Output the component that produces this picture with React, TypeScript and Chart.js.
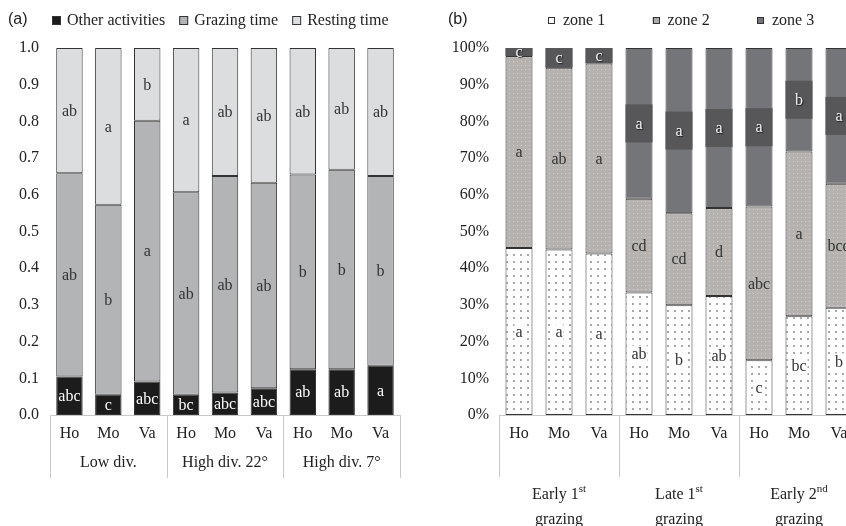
import React, { useEffect, useRef } from "react";
import { Chart, registerables } from "chart.js";
Chart.register(...registerables);

const SERIF = "'Liberation Serif', 'Times New Roman', serif";
const SANS = "'Liberation Sans', Arial, sans-serif";

// ---------- Panel (a) data ----------
const categories = ["Ho", "Mo", "Va", "Ho", "Mo", "Va", "Ho", "Mo", "Va"];
const groupsA = ["Low div.", "High div. 22°", "High div. 7°"];
const otherActivities = [0.105, 0.055, 0.091, 0.055, 0.061, 0.073, 0.125, 0.125, 0.134];
const grazingTime = [0.554, 0.518, 0.711, 0.552, 0.59, 0.56, 0.53, 0.543, 0.517];
const restingTime = [0.341, 0.427, 0.198, 0.393, 0.349, 0.367, 0.345, 0.332, 0.349];
const otherLetters = ["abc", "c", "abc", "bc", "abc", "abc", "ab", "ab", "a"];
const grazingLetters = ["ab", "b", "a", "ab", "ab", "ab", "b", "b", "b"];
const restingLetters = ["ab", "a", "b", "a", "ab", "ab", "ab", "ab", "ab"];

// ---------- Panel (b) data (percent) ----------
const groupMainB = ["Early 1", "Late 1", "Early 2"];
const groupSupB = ["st", "st", "nd"];
const groupLine2B = ["grazing", "grazing", "grazing"];
const zone1 = [45.5, 45.1, 44.0, 33.4, 29.9, 32.4, 14.9, 26.9, 29.2];
const zone2 = [52.3, 49.5, 51.8, 25.5, 25.1, 24.0, 41.9, 44.9, 33.8];
const zone3 = [2.2, 5.4, 4.2, 41.1, 45.0, 43.6, 43.2, 28.2, 37.0];
const zone1Letters = ["a", "a", "a", "ab", "b", "ab", "c", "bc", "b"];
const zone2Letters = ["a", "ab", "a", "cd", "cd", "d", "abc", "a", "bcd"];
const zone3Letters = ["c", "c", "c", "a", "a", "a", "a", "b", "a"];

function makePattern(size: number, bg: string, dotColor: string, dots: number[][]) {
  const c = document.createElement("canvas");
  c.width = size;
  c.height = size;
  const g = c.getContext("2d")!;
  g.fillStyle = bg;
  g.fillRect(0, 0, size, size);
  g.fillStyle = dotColor;
  dots.forEach(([x, y, w, h]) => g.fillRect(x, y, w, h));
  return g.createPattern(c, "repeat")!;
}

type LabelSpec = {
  letters: string[];
  color: string;
  band?: string;
  shadow?: boolean;
  boxBg?: string;
};

function drawBarLabels(chart: any, specs: LabelSpec[]) {
  const ctx = chart.ctx as CanvasRenderingContext2D;
  ctx.save();
  ctx.font = `16px ${SERIF}`;
  ctx.textAlign = "center";
  ctx.textBaseline = "middle";
  specs.forEach((spec, di) => {
    const meta = chart.getDatasetMeta(di);
    meta.data.forEach((el: any, i: number) => {
      const p = el.getProps(["x", "y", "base", "width"], true);
      const top = Math.min(p.y, p.base);
      const bot = Math.max(p.y, p.base);
      const cy = (top + bot) / 2;
      const text = spec.letters[i];
      if (spec.band) {
        const h = 38;
        const y0 = Math.max(top, cy - h / 2);
        const y1 = Math.min(bot, cy + h / 2);
        ctx.fillStyle = spec.band;
        ctx.fillRect(p.x - p.width / 2, y0, p.width, y1 - y0);
      }
      if (spec.boxBg) {
        const w = ctx.measureText(text).width;
        ctx.fillStyle = spec.boxBg;
        ctx.fillRect(p.x - w / 2 - 1, cy - 8, w + 2, 17);
      }
      ctx.save();
      if (spec.shadow) {
        ctx.shadowColor = "rgba(0,0,0,0.7)";
        ctx.shadowOffsetX = 1;
        ctx.shadowOffsetY = 1;
        ctx.shadowBlur = 1;
      }
      ctx.fillStyle = spec.color;
      ctx.fillText(text, p.x, cy + 1);
      ctx.restore();
    });
  });
  ctx.restore();
}

function drawXAxis(chart: any, sepBottom: number, drawGroups: (ctx: CanvasRenderingContext2D, centers: number[]) => void) {
  const ctx = chart.ctx as CanvasRenderingContext2D;
  const { left, right, bottom } = chart.chartArea;
  const xs = chart.scales.x;
  ctx.save();
  ctx.strokeStyle = "#c8c8c8";
  ctx.lineWidth = 1;
  ctx.beginPath();
  ctx.moveTo(left, bottom + 0.5);
  ctx.lineTo(right, bottom + 0.5);
  const step = (right - left) / categories.length;
  for (let g = 0; g <= 3; g++) {
    const x = Math.round(left + g * 3 * step) + 0.5;
    ctx.moveTo(x, bottom);
    ctx.lineTo(x, sepBottom);
  }
  ctx.stroke();
  ctx.fillStyle = "#222";
  ctx.font = `16px ${SERIF}`;
  ctx.textAlign = "center";
  ctx.textBaseline = "middle";
  categories.forEach((c, i) => {
    ctx.fillText(c, xs.getPixelForValue(i), bottom + 19);
  });
  const centers = [0, 1, 2].map((g) => left + (g * 3 + 1.5) * step);
  drawGroups(ctx, centers);
  ctx.restore();
}

function ChartA() {
  const ref = useRef<HTMLCanvasElement>(null);
  useEffect(() => {
    const chart = new Chart(ref.current!, {
      type: "bar",
      data: {
        labels: categories,
        datasets: [
          { label: "Other activities", data: otherActivities, backgroundColor: "#1c1c1c" },
          { label: "Grazing time", data: grazingTime, backgroundColor: "#b3b4b6" },
          { label: "Resting time", data: restingTime, backgroundColor: "#dcdddf" },
        ].map((d) => ({
          ...d,
          borderColor: "#333",
          borderWidth: 1,
          borderSkipped: false,
          barPercentage: 0.68,
          categoryPercentage: 1,
        })),
      },
      options: {
        responsive: false,
        animation: false,
        layout: { padding: { top: 48, bottom: 111, left: 0, right: 20 } },
        plugins: { legend: { display: false }, tooltip: { enabled: false } },
        scales: {
          x: { stacked: true, display: false },
          y: {
            stacked: true,
            min: 0,
            max: 1,
            ticks: {
              stepSize: 0.1,
              padding: 11,
              color: "#222",
              font: { family: SERIF, size: 16 },
              callback: (v: any) => Number(v).toFixed(1),
            },
            grid: { display: false, drawTicks: false },
            border: { display: false },
            afterFit: (s: any) => {
              s.width = 50;
            },
          },
        },
      },
      plugins: [
        {
          id: "decorA",
          afterDatasetsDraw(c: any) {
            drawBarLabels(c, [
              { letters: otherLetters, color: "#fff" },
              { letters: grazingLetters, color: "#333" },
              { letters: restingLetters, color: "#333" },
            ]);
          },
          afterDraw(c: any) {
            drawXAxis(c, 478, (ctx, centers) => {
              groupsA.forEach((g, i) => ctx.fillText(g, centers[i], 463));
            });
            const ctx = c.ctx as CanvasRenderingContext2D;
            ctx.save();
            ctx.font = `16px ${SANS}`;
            ctx.fillStyle = "#222";
            ctx.textBaseline = "middle";
            ctx.textAlign = "left";
            ctx.fillText("(a)", 8, 20);
            ctx.font = `16px ${SERIF}`;
            const items = [
              { t: "Other activities", col: "#1c1c1c" },
              { t: "Grazing time", col: "#b3b4b6" },
              { t: "Resting time", col: "#dcdddf" },
            ];
            let x = 52;
            items.forEach((it) => {
              ctx.fillStyle = it.col;
              ctx.fillRect(x, 16, 9, 9);
              ctx.strokeStyle = "#333";
              ctx.lineWidth = 1;
              ctx.strokeRect(x + 0.5, 16.5, 8, 8);
              ctx.fillStyle = "#222";
              ctx.fillText(it.t, x + 15, 21);
              x += 15 + ctx.measureText(it.t).width + 14;
            });
            ctx.restore();
          },
        },
      ],
    } as any);
    return () => chart.destroy();
  }, []);
  return <canvas ref={ref} width={420} height={526} style={{ position: "absolute", left: 0, top: 0 }} />;
}

function ChartB() {
  const ref = useRef<HTMLCanvasElement>(null);
  useEffect(() => {
    const p1 = makePattern(7, "#ffffff", "#a8a8a8", [[2, 2, 2, 2]]);
    const p2 = makePattern(4, "#b6b2af", "#d2cecb", [[1, 1, 1, 1]]);
    const chart = new Chart(ref.current!, {
      type: "bar",
      data: {
        labels: categories,
        datasets: [
          { label: "zone 1", data: zone1, backgroundColor: p1 },
          { label: "zone 2", data: zone2, backgroundColor: p2 },
          { label: "zone 3", data: zone3, backgroundColor: "#747579" },
        ].map((d) => ({
          ...d,
          borderColor: "#333",
          borderWidth: 1,
          borderSkipped: false,
          barPercentage: 0.675,
          categoryPercentage: 1,
        })),
      },
      options: {
        responsive: false,
        animation: false,
        layout: { padding: { top: 48, bottom: 111, left: 0, right: 21 } },
        plugins: { legend: { display: false }, tooltip: { enabled: false } },
        scales: {
          x: { stacked: true, display: false },
          y: {
            stacked: true,
            min: 0,
            max: 100,
            ticks: {
              stepSize: 10,
              padding: 10,
              color: "#222",
              font: { family: SERIF, size: 16 },
              callback: (v: any) => `${Math.round(Number(v))}%`,
            },
            grid: { display: false, drawTicks: false },
            border: { display: false },
            afterFit: (s: any) => {
              s.width = 79;
            },
          },
        },
      },
      plugins: [
        {
          id: "decorB",
          afterDatasetsDraw(c: any) {
            drawBarLabels(c, [
              { letters: zone1Letters, color: "#333", boxBg: "#ffffff" },
              { letters: zone2Letters, color: "#333" },
              { letters: zone3Letters, color: "#f4f4f4", band: "#575759", shadow: true },
            ]);
          },
          afterDraw(c: any) {
            drawXAxis(c, 477, (ctx, centers) => {
              groupMainB.forEach((g, i) => {
                ctx.font = `16px ${SERIF}`;
                const w1 = ctx.measureText(g).width;
                ctx.font = `11px ${SERIF}`;
                const w2 = ctx.measureText(groupSupB[i]).width;
                const x0 = centers[i] - (w1 + w2) / 2;
                ctx.textAlign = "left";
                ctx.font = `16px ${SERIF}`;
                ctx.fillText(g, x0, 495);
                ctx.font = `11px ${SERIF}`;
                ctx.fillText(groupSupB[i], x0 + w1, 489);
                ctx.font = `16px ${SERIF}`;
                ctx.textAlign = "center";
                ctx.fillText(groupLine2B[i], centers[i], 520);
              });
            });
            const ctx = c.ctx as CanvasRenderingContext2D;
            ctx.save();
            ctx.font = `16px ${SANS}`;
            ctx.fillStyle = "#222";
            ctx.textBaseline = "middle";
            ctx.textAlign = "left";
            ctx.fillText("(b)", 28, 20);
            ctx.font = `16px ${SERIF}`;
            const items = [
              { t: "zone 1", col: "#ffffff" },
              { t: "zone 2", col: "#aeaaa7" },
              { t: "zone 3", col: "#747579" },
            ];
            items.forEach((it, i) => {
              const x = 128 + i * 104.5;
              ctx.fillStyle = it.col;
              ctx.fillRect(x, 17, 7, 7);
              ctx.strokeStyle = "#333";
              ctx.lineWidth = 1;
              ctx.strokeRect(Math.round(x) + 0.5, 17.5, 6, 6);
              ctx.fillStyle = "#222";
              ctx.fillText(it.t, x + 15, 21);
            });
            ctx.restore();
          },
        },
      ],
    } as any);
    return () => chart.destroy();
  }, []);
  return <canvas ref={ref} width={460} height={526} style={{ position: "absolute", left: 420, top: 0 }} />;
}

export default function App() {
  return (
    <div
      style={{
        position: "fixed",
        left: 0,
        top: 0,
        width: 846,
        height: 526,
        overflow: "hidden",
        background: "#fff",
      }}
    >
      <ChartA />
      <ChartB />
    </div>
  );
}
